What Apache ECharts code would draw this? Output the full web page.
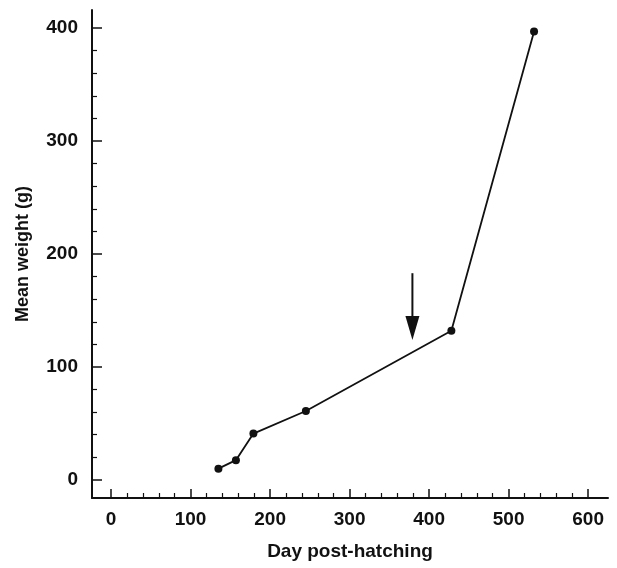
<!DOCTYPE html>
<html>
<head>
<meta charset="utf-8">
<script src="https://cdn.jsdelivr.net/npm/echarts@6/dist/echarts.min.js"></script>
<style>
    html, body { margin: 0; padding: 0; background: #fff; }
    #chart { width: 617px; height: 568px; }
</style>
</head>
<body>
<div id="chart"></div>
<script>
    // data
    var days = [135, 157, 179, 245, 428, 532];
    var weights = [10, 17.5, 41, 61, 132, 397];
    var arrowDay = 379;
    var arrowShaft = [183, 134];
    var arrowHead = 134.5;

    var xMajor = [0, 100, 200, 300, 400, 500, 600];
    var xMinor = [20, 40, 60, 80, 120, 140, 160, 180, 220, 240, 260, 280, 320, 340, 360, 380, 420, 440, 460, 480, 520, 540, 560, 580];
    var yMajor = [0, 100, 200, 300, 400];
    var yMinor = [20, 40, 60, 80, 120, 140, 160, 180, 220, 240, 260, 280, 320, 340, 360, 380];

    var font = 'Liberation Sans';
    var points = days.map(function (d, i) { return [d, weights[i]]; });

    var myChart = echarts.init(document.getElementById('chart'));
    var option = {
        backgroundColor: '#fff',
        animation: false,
        grid: { left: 92, right: 9, top: 10, bottom: 70 },
        xAxis: [
            {
                type: 'value', min: -24, max: 625,
                name: 'Day post-hatching', nameLocation: 'middle', nameGap: 44,
                nameTextStyle: { fontFamily: font, fontWeight: 'bold', fontSize: 19, color: '#111' },
                axisLine: { onZero: false, lineStyle: { color: '#111', width: 2 } },
                axisTick: { inside: true, length: 9, customValues: xMajor, lineStyle: { color: '#111', width: 1.5 } },
                axisLabel: { customValues: xMajor, margin: 12, fontFamily: font, fontWeight: 'bold', fontSize: 19, color: '#111' },
                splitLine: { show: false }
            },
            {
                type: 'value', min: -24, max: 625, position: 'bottom',
                axisLine: { show: false, onZero: false },
                axisTick: { inside: true, length: 5, customValues: xMinor, lineStyle: { color: '#111', width: 1.2 } },
                axisLabel: { show: false },
                splitLine: { show: false }
            }
        ],
        yAxis: [
            {
                type: 'value', min: -16, max: 416,
                name: 'Mean weight (g)', nameLocation: 'middle', nameGap: 60, nameRotate: 90,
                nameTextStyle: { fontFamily: font, fontWeight: 'bold', fontSize: 18, color: '#111' },
                axisLine: { show: true, onZero: false, lineStyle: { color: '#111', width: 2 } },
                axisTick: { show: true, inside: true, length: 10, customValues: yMajor, lineStyle: { color: '#111', width: 1.5 } },
                axisLabel: { customValues: yMajor, margin: 14, fontFamily: font, fontWeight: 'bold', fontSize: 19, color: '#111' },
                splitLine: { show: false }
            },
            {
                type: 'value', min: -16, max: 416, position: 'left',
                axisLine: { show: false, onZero: false },
                axisTick: { show: true, inside: true, length: 5, customValues: yMinor, lineStyle: { color: '#111', width: 1.2 } },
                axisLabel: { show: false },
                splitLine: { show: false }
            }
        ],
        series: [
            {
                type: 'line',
                data: points,
                symbol: 'circle',
                symbolSize: 8,
                itemStyle: { color: '#111' },
                lineStyle: { color: '#111', width: 1.8 }
            },
            {
                // arrow shaft
                type: 'line',
                data: [[arrowDay, arrowShaft[0]], [arrowDay, arrowShaft[1]]],
                symbol: 'none',
                silent: true,
                lineStyle: { color: '#111', width: 2 }
            },
            {
                // arrow head
                type: 'scatter',
                data: [[arrowDay, arrowHead]],
                symbol: 'triangle',
                symbolRotate: 180,
                symbolSize: [14, 24],
                silent: true,
                itemStyle: { color: '#111', opacity: 1 }
            }
        ]
    };
    window.onresize = function () { myChart.resize(); };
    myChart.setOption(option);
</script>
</body>
</html>
